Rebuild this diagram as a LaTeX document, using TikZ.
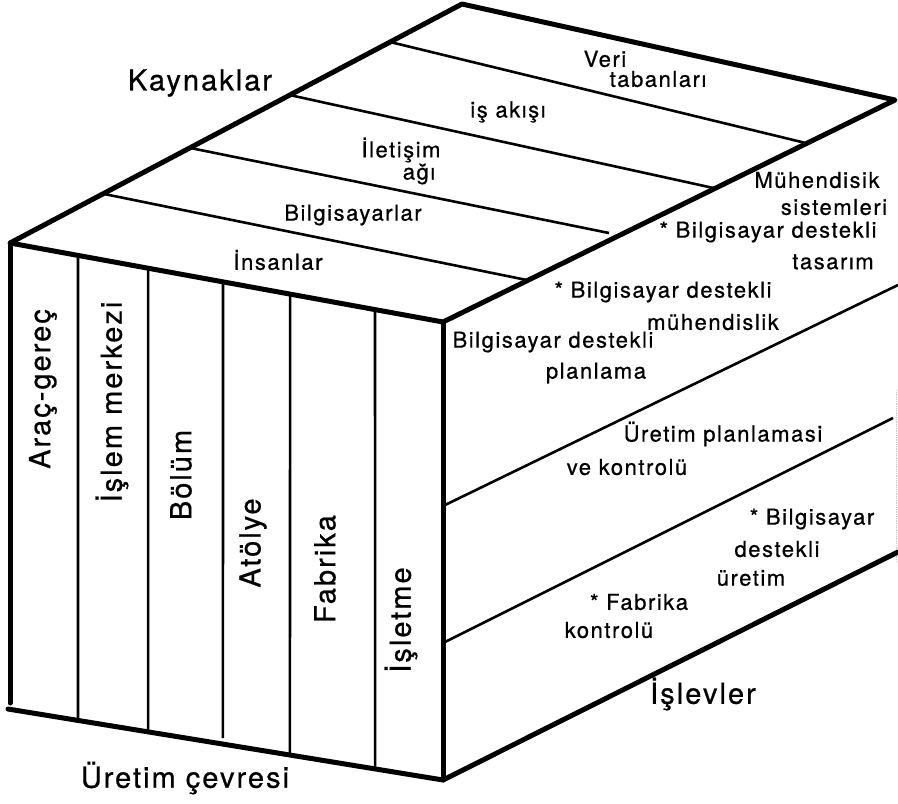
\documentclass[tikz,border=0pt]{standalone}
\usepackage{fontspec}
\newfontfamily\lab[LetterSpace=7,FakeBold=0.7]{TeX Gyre Heros}
\usetikzlibrary{calc}
\begin{document}
\begin{tikzpicture}[x=1pt,y=-1pt,
  edge/.style={line width=5pt, line cap=round, line join=round},
  rule/.style={line width=2.6pt},
  small/.style={font=\lab\fontsize{22}{24}\selectfont, inner sep=0pt},
  big/.style={font=\lab\fontsize{29}{32}\selectfont, inner sep=0pt},
  side/.style={font=\lab\fontsize{29}{31}\selectfont, inner sep=0pt, rotate=90}]
\useasboundingbox (0,0) rectangle (898,804);

% cube corners
\coordinate (A) at (10,243);   % front, top left
\coordinate (B) at (443,322);  % front, top right
\coordinate (C) at (462,4);    % top, back left
\coordinate (D) at (895,100);  % top, back right
\coordinate (FL) at (8,709);   % front, bottom left
\coordinate (FR) at (443,780); % front, bottom right
\coordinate (G) at (898,552);  % right face, bottom back
\coordinate (Lb) at (10,703);  % foot of the left edge

% top face: resources
\draw[rule] ($(A)!0.206!(C)$) -- ($(B)!0.188!(D)$);
\coordinate (L2end) at (609,233);
\draw[rule] ($(A)!0.398!(C)$) -- (L2end);
\draw[rule] ($(A)!0.619!(C)$) -- ($(B)!0.602!(D)$);
\draw[rule] ($(A)!0.841!(C)$) -- ($(B)!0.805!(D)$);

% right face: functions
\coordinate (R1a) at (443,506);
\coordinate (R1b) at (898,285);
\coordinate (R2a) at (443,643);
\coordinate (R2b) at (893,418);
\draw[rule] (R1a) -- (R1b);
\draw[rule] (R2a) -- (R2b);
\coordinate (Ra) at (896,390);
\coordinate (Rb) at (896,562);
\draw[gray!45, line width=0.8pt, densely dotted] (Ra) -- (Rb);

% front face: production environment
\foreach \t/\u in {0.157/0.161, 0.319/0.322, 0.647/0.648, 0.843/0.844}
  \draw[rule] ($(A)!\t!(B)$) -- ($(FL)!\u!(FR)$);
\draw[rule, shorten >=6pt] ($(A)!0.492!(B)$) -- ($(FL)!0.494!(FR)$);

% outline
\draw[edge] (B) -- (A) -- (C) -- (D) -- cycle;
\draw[edge] (A) -- (Lb);
\draw[edge] (FL) -- (FR) -- (G);
\draw[edge] (B) -- (FR);

% axis labels
\node[big] (kay) at (200,83) {Kaynaklar};
\node[big] (uc) at (185,778) {Üretim çevresi};
\node[big] (isl) at (703,694) {İşlevler};

% top face labels
\node[small] (veri) at (605,59) {Veri};
\node[small] (tab) at (658,79) {tabanları};
\node[small] (akis) at (508,112) {iş akışı};
\node[small] (ilet) at (401,150) {İletişim};
\node[small] (agi) at (419,174) {ağı};
\node[small] (bilg) at (353,215) {Bilgisayarlar};
\node[small] (ins) at (278,260) {İnsanlar};

% right face labels
\node[small] (muh) at (817,180) {Mühendisik};
\node[small] (sis) at (834,207) {sistemleri};
\node[small] (cad) at (768,232) {* Bilgisayar destekli};
\node[small] (tas) at (833,262) {tasarım};
\node[small] (cae) at (663,292) {* Bilgisayar destekli};
\node[small] (muhl) at (713,322) {mühendislik};
\node[small] (capa) at (553,342) {Bilgisayar destekli};
\node[small] (plan) at (596,373) {planlama};
\node[small] (upk) at (723,434) {Üretim planlamasi};
\node[small] (vek) at (627,467) {ve kontrolü};
\node[small] (cam) at (812,519) {* Bilgisayar};
\node[small] (camb) at (777,549) {destekli};
\node[small] (camc) at (751,578) {üretim};
\node[small] (fab) at (639,602) {* Fabrika};
\node[small] (fabk) at (609,630) {kontrolü};

% front face labels
\node[side] (arac) at (43,389) {Araç-gereç};
\node[side] (islm) at (112,402) {İşlem merkezi};
\node[side] (bol) at (181,475) {Bölüm};
\node[side] (ato) at (253,543) {Atölye};
\node[side] (fabr) at (325,569) {Fabrika};
\node[side] (islt) at (401,620) {İşletme};
\end{tikzpicture}
\end{document}
